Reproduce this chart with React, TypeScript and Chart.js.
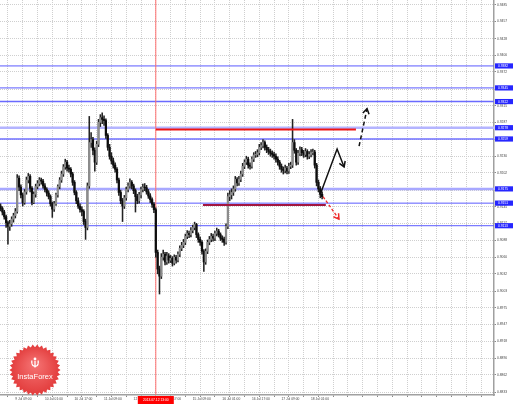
import React, { useEffect, useRef } from 'react';
import { Chart, registerables } from 'chart.js';

Chart.register(...registerables);

// ---- Hourly candles (H1), index 0 = 9 Jul 01:00 ----
const opens = [
  0.9146, 0.9142, 0.9136, 0.9128, 0.9118, 0.9112, 0.9116, 0.9124, 0.9130, 0.9137,
  0.9193, 0.9178, 0.9165, 0.9152, 0.9170, 0.9190, 0.9196, 0.9176, 0.9152, 0.9166,
  0.9179, 0.9184, 0.9190, 0.9188, 0.9180, 0.9174, 0.9168, 0.9162, 0.9150, 0.9141,
  0.9150, 0.9165, 0.9179, 0.9190, 0.9200, 0.9212, 0.9220, 0.9210, 0.9208, 0.9200,
  0.9186, 0.9169, 0.9155, 0.9146, 0.9140, 0.9137, 0.9120, 0.9110, 0.9180, 0.9253,
  0.9258, 0.9240, 0.9220, 0.9250, 0.9287, 0.9295, 0.9292, 0.9290, 0.9265, 0.9245,
  0.9230, 0.9222, 0.9215, 0.9208, 0.9190, 0.9169, 0.9155, 0.9146, 0.9160, 0.9174,
  0.9180, 0.9186, 0.9180, 0.9172, 0.9162, 0.9155, 0.9165, 0.9174, 0.9178, 0.9177,
  0.9170, 0.9163, 0.9157, 0.9149, 0.9140, 0.9068, 0.9040, 0.9028, 0.9060, 0.9065,
  0.9052, 0.9062, 0.9055, 0.9058, 0.9050, 0.9060, 0.9055, 0.9065, 0.9075, 0.9080,
  0.9085, 0.9095, 0.9100, 0.9098, 0.9105, 0.9110, 0.9115, 0.9098, 0.9090, 0.9085,
  0.9070, 0.9052, 0.9070, 0.9085, 0.9090, 0.9095, 0.9092, 0.9100, 0.9104, 0.9098,
  0.9092, 0.9090, 0.9085, 0.9112, 0.9162, 0.9165, 0.9169, 0.9175, 0.9191, 0.9185,
  0.9191, 0.9200, 0.9213, 0.9220, 0.9225, 0.9215, 0.9213, 0.9225, 0.9232, 0.9233,
  0.9236, 0.9245, 0.9248, 0.9253, 0.9245, 0.9241, 0.9238, 0.9235, 0.9233, 0.9230,
  0.9225, 0.9220, 0.9213, 0.9208, 0.9206, 0.9210, 0.9205, 0.9213, 0.9215, 0.9253,
  0.9240, 0.9220, 0.9235, 0.9241, 0.9236, 0.9233, 0.9238, 0.9230, 0.9233, 0.9236,
  0.9237, 0.9215, 0.9186, 0.9175, 0.9166,
];
const highs = [
  0.9150, 0.9145, 0.9139, 0.9131, 0.9121, 0.9122, 0.9128, 0.9134, 0.9142, 0.9199,
  0.9197, 0.9182, 0.9168, 0.9174, 0.9195, 0.9201, 0.9199, 0.9179, 0.9170, 0.9183,
  0.9189, 0.9194, 0.9193, 0.9191, 0.9184, 0.9177, 0.9172, 0.9165, 0.9153, 0.9154,
  0.9168, 0.9182, 0.9194, 0.9205, 0.9216, 0.9225, 0.9223, 0.9215, 0.9211, 0.9203,
  0.9189, 0.9172, 0.9160, 0.9150, 0.9145, 0.9140, 0.9124, 0.9185, 0.9297, 0.9270,
  0.9262, 0.9244, 0.9255, 0.9292, 0.9300, 0.9303, 0.9298, 0.9293, 0.9268, 0.9250,
  0.9236, 0.9227, 0.9219, 0.9211, 0.9193, 0.9173, 0.9159, 0.9164, 0.9178, 0.9185,
  0.9192, 0.9189, 0.9183, 0.9175, 0.9166, 0.9169, 0.9178, 0.9183, 0.9184, 0.9181,
  0.9174, 0.9167, 0.9160, 0.9152, 0.9143, 0.9072, 0.9045, 0.9066, 0.9072, 0.9068,
  0.9068, 0.9066, 0.9063, 0.9061, 0.9064, 0.9063, 0.9069, 0.9079, 0.9085, 0.9090,
  0.9099, 0.9105, 0.9104, 0.9110, 0.9114, 0.9119, 0.9117, 0.9101, 0.9094, 0.9088,
  0.9073, 0.9074, 0.9089, 0.9095, 0.9100, 0.9099, 0.9104, 0.9109, 0.9107, 0.9101,
  0.9096, 0.9094, 0.9116, 0.9168, 0.9172, 0.9175, 0.9180, 0.9196, 0.9194, 0.9196,
  0.9205, 0.9218, 0.9224, 0.9230, 0.9228, 0.9219, 0.9229, 0.9236, 0.9238, 0.9241,
  0.9250, 0.9253, 0.9258, 0.9256, 0.9249, 0.9245, 0.9242, 0.9239, 0.9237, 0.9234,
  0.9229, 0.9223, 0.9217, 0.9212, 0.9215, 0.9213, 0.9218, 0.9220, 0.9292, 0.9258,
  0.9243, 0.9240, 0.9246, 0.9245, 0.9240, 0.9243, 0.9241, 0.9238, 0.9241, 0.9242,
  0.9240, 0.9218, 0.9190, 0.9179, 0.9170,
];
const lows = [
  0.9138, 0.9131, 0.9124, 0.9110, 0.9082, 0.9105, 0.9112, 0.9119, 0.9126, 0.9134,
  0.9172, 0.9160, 0.9146, 0.9149, 0.9166, 0.9185, 0.9170, 0.9148, 0.9150, 0.9161,
  0.9175, 0.9180, 0.9183, 0.9176, 0.9170, 0.9163, 0.9158, 0.9146, 0.9127, 0.9137,
  0.9147, 0.9161, 0.9175, 0.9186, 0.9196, 0.9208, 0.9205, 0.9203, 0.9195, 0.9181,
  0.9165, 0.9150, 0.9142, 0.9136, 0.9130, 0.9115, 0.9090, 0.9106, 0.9176, 0.9245,
  0.9232, 0.9205, 0.9216, 0.9246, 0.9280, 0.9285, 0.9282, 0.9260, 0.9240, 0.9225,
  0.9217, 0.9210, 0.9203, 0.9185, 0.9164, 0.9150, 0.9120, 0.9142, 0.9156, 0.9170,
  0.9176, 0.9175, 0.9167, 0.9136, 0.9150, 0.9151, 0.9160, 0.9170, 0.9172, 0.9166,
  0.9159, 0.9152, 0.9144, 0.9135, 0.9060, 0.9032, 0.8998, 0.9024, 0.9055, 0.9047,
  0.9048, 0.9050, 0.9051, 0.9045, 0.9047, 0.9050, 0.9052, 0.9061, 0.9071, 0.9076,
  0.9081, 0.9091, 0.9093, 0.9094, 0.9101, 0.9106, 0.9093, 0.9085, 0.9080, 0.9065,
  0.9036, 0.9048, 0.9066, 0.9081, 0.9086, 0.9087, 0.9088, 0.9096, 0.9094, 0.9088,
  0.9085, 0.9080, 0.9082, 0.9108, 0.9155, 0.9158, 0.9164, 0.9171, 0.9180, 0.9181,
  0.9187, 0.9196, 0.9209, 0.9216, 0.9210, 0.9208, 0.9210, 0.9221, 0.9228, 0.9229,
  0.9232, 0.9241, 0.9244, 0.9240, 0.9236, 0.9233, 0.9230, 0.9228, 0.9225, 0.9220,
  0.9215, 0.9208, 0.9203, 0.9200, 0.9202, 0.9200, 0.9201, 0.9209, 0.9211, 0.9235,
  0.9215, 0.9216, 0.9231, 0.9231, 0.9228, 0.9229, 0.9225, 0.9226, 0.9229, 0.9232,
  0.9210, 0.9180, 0.9170, 0.9160, 0.9158,
];
const closes = [
  0.9142, 0.9136, 0.9128, 0.9118, 0.9112, 0.9116, 0.9124, 0.9130, 0.9137, 0.9193,
  0.9178, 0.9165, 0.9152, 0.9170, 0.9190, 0.9196, 0.9176, 0.9152, 0.9166, 0.9179,
  0.9184, 0.9190, 0.9188, 0.9180, 0.9174, 0.9168, 0.9162, 0.9150, 0.9141, 0.9150,
  0.9165, 0.9179, 0.9190, 0.9200, 0.9212, 0.9220, 0.9210, 0.9208, 0.9200, 0.9186,
  0.9169, 0.9155, 0.9146, 0.9140, 0.9137, 0.9120, 0.9110, 0.9180, 0.9253, 0.9258,
  0.9240, 0.9220, 0.9250, 0.9287, 0.9295, 0.9292, 0.9290, 0.9265, 0.9245, 0.9230,
  0.9222, 0.9215, 0.9208, 0.9190, 0.9169, 0.9155, 0.9146, 0.9160, 0.9174, 0.9180,
  0.9186, 0.9180, 0.9172, 0.9162, 0.9155, 0.9165, 0.9174, 0.9178, 0.9177, 0.9170,
  0.9163, 0.9157, 0.9149, 0.9140, 0.9068, 0.9040, 0.9028, 0.9060, 0.9065, 0.9052,
  0.9062, 0.9055, 0.9058, 0.9050, 0.9060, 0.9055, 0.9065, 0.9075, 0.9080, 0.9085,
  0.9095, 0.9100, 0.9098, 0.9105, 0.9110, 0.9115, 0.9098, 0.9090, 0.9085, 0.9070,
  0.9052, 0.9070, 0.9085, 0.9090, 0.9095, 0.9092, 0.9100, 0.9104, 0.9098, 0.9092,
  0.9090, 0.9085, 0.9112, 0.9162, 0.9165, 0.9169, 0.9175, 0.9191, 0.9185, 0.9191,
  0.9200, 0.9213, 0.9220, 0.9225, 0.9215, 0.9213, 0.9225, 0.9232, 0.9233, 0.9236,
  0.9245, 0.9248, 0.9253, 0.9245, 0.9241, 0.9238, 0.9235, 0.9233, 0.9230, 0.9225,
  0.9220, 0.9213, 0.9208, 0.9206, 0.9210, 0.9205, 0.9213, 0.9215, 0.9253, 0.9240,
  0.9220, 0.9235, 0.9241, 0.9236, 0.9233, 0.9238, 0.9230, 0.9233, 0.9236, 0.9237,
  0.9215, 0.9186, 0.9175, 0.9166, 0.9162,
];

// ---- axes ----
const timeTickIndex = [8, 24, 40, 56, 72, 88, 104, 120, 136, 152, 168];
const timeTickLabels = [
  '9 Jul 09:00', '10 Jul 01:00', '10 Jul 17:00', '11 Jul 09:00', '12 Jul 01:00',
  '12 Jul 17:00', '15 Jul 09:00', '16 Jul 01:00', '16 Jul 17:00', '17 Jul 09:00', '18 Jul 01:00',
];
const timeGridIndex = [0, 8, 16, 24, 32, 40, 48, 56, 64, 72, 80, 88, 96, 104, 112, 120, 128, 136,
  144, 152, 160, 168, 176, 184, 192, 200, 208, 216, 224, 232, 240, 248, 256, 264];
const priceTicks = [0.9485, 0.9457, 0.9428, 0.9400, 0.9372, 0.9343, 0.9315, 0.9287, 0.9258, 0.9230,
  0.9202, 0.9173, 0.9145, 0.9117, 0.9088, 0.9060, 0.9032, 0.9003, 0.8975, 0.8947, 0.8918, 0.8890,
  0.8862, 0.8833];

// ---- annotations ----
const levelPrices = [0.9382, 0.9345, 0.9322, 0.9278, 0.9259, 0.9175, 0.9151, 0.9113];
const crossIndex = 84;
const crossLabel = '2013.07.12 13:00';
const resistanceLine = [[84, 0.9275], [192.3, 0.9275]];
const supportLine = [[109.5, 0.9148], [176, 0.9148]];
const bullPath = [[172.9, 0.9165], [182.1, 0.9242], [185.9, 0.9212]];
const breakoutPath = [[194.0, 0.9247], [198.3, 0.9310]];
const bearPath = [[174.5, 0.9162], [183.1, 0.9124]];

// styles (kept apart from data)
const levelStyles = [
  { c: '#5a5aff', w: 1 }, { c: '#5a5aff', w: 1 }, { c: '#6a6aff', w: 1.5 }, { c: '#b4b4ff', w: 2.5 },
  { c: '#7070ff', w: 1.5 }, { c: '#a8a8ff', w: 2.5 }, { c: '#5a5aff', w: 1 }, { c: '#5a5aff', w: 1 },
];
const X_MIN = -0.3, X_MAX = 267;
const Y_MIN = 0.8828, Y_MAX = 0.9493;
const FONT = '"Liberation Sans", Arial, sans-serif';

const toPts = (arr: number[][]) => arr.map(([x, y]) => ({ x, y }));

function arrowHead(ctx: CanvasRenderingContext2D, chart: any, dsIndex: number, color: string, len: number) {
  const pts = chart.getDatasetMeta(dsIndex).data;
  if (!pts || pts.length < 2) return;
  const a = pts[pts.length - 2], b = pts[pts.length - 1];
  const ang = Math.atan2(b.y - a.y, b.x - a.x);
  ctx.save();
  ctx.strokeStyle = color; ctx.lineWidth = 1.5; ctx.setLineDash([]);
  ctx.beginPath();
  ctx.moveTo(b.x - len * Math.cos(ang - 0.55), b.y - len * Math.sin(ang - 0.55));
  ctx.lineTo(b.x, b.y);
  ctx.lineTo(b.x - len * Math.cos(ang + 0.55), b.y - len * Math.sin(ang + 0.55));
  ctx.stroke();
  ctx.restore();
}

function drawLogo(ctx: CanvasRenderingContext2D, cx: number, cy: number) {
  const spikes = 34, rO = 25.5, rI = 22.8;
  ctx.save();
  ctx.beginPath();
  for (let k = 0; k < spikes * 2; k++) {
    const r = k % 2 ? rI : rO;
    const a = (k * Math.PI) / spikes;
    ctx.lineTo(cx + r * Math.cos(a), cy + r * Math.sin(a));
  }
  ctx.closePath();
  const g = ctx.createRadialGradient(cx, cy - 6, 2, cx, cy, rO);
  g.addColorStop(0, '#f47070');
  g.addColorStop(1, '#e23b3b');
  ctx.fillStyle = g;
  ctx.fill();
  // icon
  ctx.fillStyle = '#fff';
  ctx.strokeStyle = '#fff';
  ctx.beginPath(); ctx.arc(cx, cy - 11, 1.4, 0, Math.PI * 2); ctx.fill();
  ctx.lineWidth = 1.3;
  ctx.beginPath(); ctx.arc(cx, cy - 7, 3.2, Math.PI * 0.05, Math.PI * 0.95); ctx.stroke();
  ctx.beginPath(); ctx.moveTo(cx, cy - 9); ctx.lineTo(cx, cy - 2.5); ctx.stroke();
  ctx.beginPath(); ctx.moveTo(cx - 3.2, cy - 9.5); ctx.lineTo(cx - 3.2, cy - 6.5); ctx.stroke();
  ctx.beginPath(); ctx.moveTo(cx + 3.2, cy - 9.5); ctx.lineTo(cx + 3.2, cy - 6.5); ctx.stroke();
  ctx.font = `7.5px ${FONT}`;
  ctx.textAlign = 'center';
  ctx.textBaseline = 'middle';
  ctx.fillText('InstaForex', cx, cy + 7);
  ctx.restore();
}

const overlayPlugin = {
  id: 'overlay',
  afterDraw(chart: any) {
    const { ctx, chartArea, scales } = chart;
    const x = scales.x, y = scales.y;
    arrowHead(ctx, chart, chart.data.datasets.findIndex((d: any) => d.label === 'bull'), '#111', 6);
    arrowHead(ctx, chart, chart.data.datasets.findIndex((d: any) => d.label === 'breakout'), '#111', 6);
    arrowHead(ctx, chart, chart.data.datasets.findIndex((d: any) => d.label === 'bear'), '#ee2a2a', 6);
    ctx.save();
    ctx.font = `3.3px ${FONT}`;
    ctx.textBaseline = 'middle';
    ctx.textAlign = 'left';
    levelPrices.forEach((p) => {
      const py = y.getPixelForValue(p);
      ctx.fillStyle = '#2626ff';
      ctx.fillRect(chartArea.right + 1, py - 2.6, 18, 5.2);
      ctx.fillStyle = '#ffffff';
      ctx.fillText(p.toFixed(4), chartArea.right + 4, py + 0.2);
    });
    const cxp = x.getPixelForValue(crossIndex);
    ctx.fillStyle = '#ff0000';
    ctx.fillRect(cxp - 18, chartArea.bottom + 1, 36, 8);
    ctx.fillStyle = '#ffffff';
    ctx.textAlign = 'center';
    ctx.fillText(crossLabel, cxp, chartArea.bottom + 5);
    ctx.restore();
    drawLogo(ctx, 35, 370);
  },
};

export default function App() {
  const ref = useRef<HTMLCanvasElement | null>(null);
  useEffect(() => {
    if (!ref.current) return;
    const bull = '#8c8c8c', bear = '#0d0d0d';
    const datasets: any[] = [];
    levelPrices.forEach((p, i) => {
      datasets.push({
        type: 'line', label: 'level' + i,
        data: [{ x: X_MIN - 2, y: p }, { x: X_MAX + 2, y: p }],
        borderColor: levelStyles[i].c, borderWidth: levelStyles[i].w,
        pointRadius: 0, order: 20,
      });
    });
    datasets.push({
      type: 'line', label: 'cross',
      data: [{ x: crossIndex, y: Y_MIN }, { x: crossIndex, y: Y_MAX }],
      borderColor: '#ff7070', borderWidth: 1, pointRadius: 0, order: 15,
    });
    datasets.push({
      type: 'bar', label: 'wick',
      data: lows.map((l, i) => ({ x: i, y: [l, highs[i]] })),
      backgroundColor: '#222222', barThickness: 0.9, grouped: false, order: 10,
    });
    datasets.push({
      type: 'bar', label: 'body',
      data: opens.map((o, i) => ({ x: i, y: [o, closes[i]] })),
      backgroundColor: opens.map((o, i) => (closes[i] >= o ? bull : bear)),
      barThickness: 1.6, grouped: false, order: 9,
    });
    datasets.push({
      type: 'line', label: 'resistance', data: toPts(resistanceLine),
      borderColor: '#f01414', borderWidth: 2, pointRadius: 0, order: 5,
    });
    datasets.push({
      type: 'line', label: 'support', data: toPts(supportLine),
      borderColor: '#a3163f', borderWidth: 2, pointRadius: 0, order: 5,
    });
    datasets.push({
      type: 'line', label: 'bull', data: toPts(bullPath),
      borderColor: '#111', borderWidth: 1.5, pointRadius: 0, order: 1, tension: 0,
    });
    datasets.push({
      type: 'line', label: 'breakout', data: toPts(breakoutPath),
      borderColor: '#111', borderWidth: 1.5, borderDash: [4, 3], pointRadius: 0, order: 1,
    });
    datasets.push({
      type: 'line', label: 'bear', data: toPts(bearPath),
      borderColor: '#ee2a2a', borderWidth: 1.3, borderDash: [3, 2], pointRadius: 0, order: 1,
    });

    const chart = new Chart(ref.current, {
      type: 'bar',
      data: { datasets },
      plugins: [overlayPlugin],
      options: {
        animation: false,
        responsive: false,
        maintainAspectRatio: false,
        devicePixelRatio: 1,
        layout: { padding: 0 },
        plugins: { legend: { display: false }, tooltip: { enabled: false } },
        scales: {
          x: {
            type: 'linear', min: X_MIN, max: X_MAX, offset: false,
            afterBuildTicks: (s: any) => { s.ticks = timeGridIndex.map((v) => ({ value: v })); },
            afterFit: (s: any) => { s.height = 9; s.paddingLeft = 0; s.paddingRight = 0; },
            ticks: {
              autoSkip: false, maxRotation: 0, minRotation: 0, align: 'start', padding: 0.5,
              color: '#444', font: { size: 3.3, family: FONT },
              callback: (v: any) => {
                const k = timeTickIndex.indexOf(Number(v));
                return k >= 0 ? timeTickLabels[k] : '';
              },
            },
            grid: { color: '#cfcfcf', lineWidth: 1, tickLength: 2, tickColor: '#888' },
            border: { display: true, color: '#a0a0a0', width: 1.5, dash: [1, 1] },
          },
          y: {
            type: 'linear', position: 'right', min: Y_MIN, max: Y_MAX,
            afterBuildTicks: (s: any) => { s.ticks = priceTicks.map((v) => ({ value: v })); },
            afterFit: (s: any) => { s.width = 24; s.paddingTop = 0; s.paddingBottom = 0; },
            ticks: {
              padding: 1, color: '#444', font: { size: 3.3, family: FONT },
              callback: (v: any) => Number(v).toFixed(4),
            },
            grid: { color: '#cfcfcf', lineWidth: 1, tickLength: 2, tickColor: '#888' },
            border: { display: true, color: '#a0a0a0', width: 1.5, dash: [1, 1] },
          },
        },
      } as any,
    });
    return () => chart.destroy();
  }, []);

  return (
    <div style={{ position: 'fixed', left: 0, top: 0, width: 518, height: 404, background: '#fff' }}>
      <canvas ref={ref} width={518} height={404} style={{ display: 'block', width: 518, height: 404 }} />
    </div>
  );
}
